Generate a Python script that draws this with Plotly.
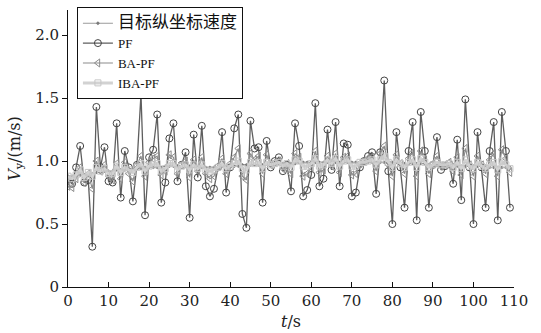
import plotly.graph_objects as go

# time axis (s)
t = list(range(110))

# target vertical velocity
v_target = [0.88, 0.88, 0.89, 0.89, 0.89, 0.90, 0.90, 0.91, 0.91, 0.92,
            0.92, 0.92, 0.93, 0.93, 0.93, 0.94, 0.94, 0.94, 0.94, 0.95,
            0.95, 0.95, 0.95, 0.95, 0.96, 0.96, 0.96, 0.96, 0.96, 0.96,
            0.96, 0.96, 0.95, 0.95, 0.95, 0.95, 0.95, 0.95, 0.96, 0.96,
            0.96, 0.96, 0.96, 0.97, 0.97, 0.97, 0.97, 0.97, 0.97, 0.98,
            0.98, 0.98, 0.98, 0.98, 0.98, 0.98, 0.98, 0.99, 0.99, 0.99,
            0.99, 0.99, 0.99, 0.99, 0.99, 0.99, 0.99, 0.99, 0.99, 0.99,
            0.99, 0.99, 0.99, 0.99, 0.99, 0.99, 0.99, 0.99, 0.99, 0.99,
            0.99, 0.99, 0.98, 0.98, 0.98, 0.98, 0.98, 0.98, 0.98, 0.97,
            0.97, 0.97, 0.97, 0.97, 0.97, 0.97, 0.96, 0.96, 0.96, 0.96,
            0.96, 0.96, 0.96, 0.96, 0.95, 0.95, 0.95, 0.95, 0.95, 0.95]

# PF estimate
v_pf = [0.86, 0.82, 0.95, 1.12, 0.83, 0.85, 0.32, 1.43, 0.95, 1.11,
        0.84, 0.83, 1.30, 0.71, 1.08, 0.95, 0.68, 0.97, 1.53, 0.57,
        1.03, 1.09, 1.37, 0.67, 0.83, 1.18, 1.30, 0.84, 0.97, 1.07,
        0.55, 1.21, 0.87, 1.28, 0.80, 0.72, 0.78, 0.95, 1.23, 0.75,
        0.95, 1.26, 1.37, 0.58, 0.47, 1.32, 1.10, 1.11, 0.67, 1.16,
        0.95, 1.00, 1.03, 0.92, 0.97, 0.76, 1.30, 1.12, 0.72, 0.77,
        0.89, 1.46, 0.80, 0.86, 1.25, 0.93, 1.31, 0.80, 1.14, 1.13,
        0.72, 0.75, 0.95, 1.00, 1.04, 1.07, 0.74, 1.07, 1.64, 0.92,
        0.50, 1.23, 0.95, 0.63, 1.08, 1.31, 0.53, 1.39, 1.08, 0.63,
        0.97, 1.19, 0.93, 0.96, 0.98, 0.82, 1.17, 0.69, 1.49, 0.95,
        0.50, 1.23, 0.95, 0.63, 1.08, 1.31, 0.53, 1.39, 1.08, 0.63]

# BA-PF estimate
v_bapf = [0.80, 0.79, 0.86, 0.95, 0.83, 0.90, 0.78, 1.00, 0.92, 0.97,
          0.88, 0.85, 0.98, 0.86, 0.99, 0.90, 0.84, 0.97, 1.04, 0.88,
          0.99, 1.02, 1.04, 0.89, 0.92, 1.05, 1.03, 0.90, 0.97, 1.00,
          0.87, 1.01, 0.92, 1.03, 0.90, 0.86, 0.88, 0.96, 1.02, 0.90,
          0.98, 1.03, 1.10, 0.88, 0.85, 1.06, 1.01, 1.04, 0.90, 1.05,
          0.97, 0.99, 1.00, 0.94, 0.98, 0.90, 1.06, 1.03, 0.88, 0.90,
          0.95, 1.08, 0.91, 0.93, 1.04, 0.96, 1.06, 0.91, 1.03, 1.04,
          0.89, 0.90, 0.98, 1.00, 1.02, 1.03, 0.92, 1.06, 1.12, 0.97,
          0.88, 1.05, 0.98, 0.90, 1.02, 1.07, 0.88, 1.08, 1.01, 0.90,
          0.98, 1.04, 0.96, 0.97, 0.99, 0.92, 1.03, 0.89, 1.10, 0.97,
          0.88, 1.04, 0.97, 0.90, 1.01, 1.06, 0.88, 1.09, 1.02, 0.91]

# IBA-PF estimate
v_ibapf = [0.88, 0.86, 0.89, 0.93, 0.87, 0.91, 0.88, 0.95, 0.92, 0.94,
           0.90, 0.90, 0.96, 0.91, 0.95, 0.93, 0.91, 0.95, 0.98, 0.92,
           0.96, 0.97, 0.98, 0.92, 0.94, 0.98, 0.98, 0.93, 0.96, 0.97,
           0.93, 0.97, 0.94, 0.97, 0.93, 0.92, 0.93, 0.95, 0.98, 0.94,
           0.96, 0.98, 1.00, 0.94, 0.93, 0.99, 0.98, 0.99, 0.94, 0.99,
           0.97, 0.98, 0.99, 0.96, 0.98, 0.95, 1.01, 1.00, 0.96, 0.96,
           0.98, 1.02, 0.96, 0.97, 1.01, 0.98, 1.02, 0.96, 1.00, 1.01,
           0.96, 0.96, 0.99, 0.99, 1.00, 1.01, 0.97, 1.01, 1.04, 0.99,
           0.95, 1.01, 0.98, 0.95, 0.99, 1.01, 0.95, 1.02, 0.99, 0.95,
           0.97, 0.99, 0.97, 0.97, 0.98, 0.95, 0.99, 0.94, 1.01, 0.96,
           0.94, 0.99, 0.96, 0.94, 0.97, 0.99, 0.93, 1.00, 0.97, 0.94]

x_ticks = [0, 10, 20, 30, 40, 50, 60, 70, 80, 90, 100, 110]
y_ticks = [0, 0.5, 1.0, 1.5, 2.0]
y_tick_text = ["0", "0.5", "1.0", "1.5", "2.0"]

FONT = "DejaVu Serif"

fig = go.Figure()

fig.add_trace(go.Scatter(
    x=t, y=v_pf, name="PF", mode="lines+markers", legendrank=2,
    line=dict(color="#5e5e5e", width=1.3),
    marker=dict(symbol="circle-open", size=7, color="#444444", line=dict(width=1)),
))
fig.add_trace(go.Scatter(
    x=t, y=v_bapf, name="BA-PF", mode="lines+markers", legendrank=3,
    line=dict(color="#8c8c8c", width=1.1),
    marker=dict(symbol="triangle-left-open", size=7, color="#8c8c8c", line=dict(width=1)),
))
fig.add_trace(go.Scatter(
    x=t, y=v_target, name="<span style='font-size:17px'>目标纵坐标速度</span>",
    mode="lines+markers", legendrank=1,
    line=dict(color="#9a9a9a", width=1.1),
    marker=dict(symbol="diamond", size=3, color="#7a7a7a"),
))
fig.add_trace(go.Scatter(
    x=t, y=v_ibapf, name="IBA-PF", mode="lines+markers", legendrank=4,
    line=dict(color="#d2d2d2", width=3),
    marker=dict(symbol="square-open", size=6, color="#c6c6c6", line=dict(width=1)),
))

fig.update_layout(
    width=541, height=333,
    margin=dict(l=68, r=27, t=7, b=46),
    paper_bgcolor="white", plot_bgcolor="white",
    font=dict(family=FONT, size=15, color="#222222"),
    showlegend=True,
    legend=dict(
        x=0.02, y=1.01, xanchor="left", yanchor="top",
        bgcolor="white", bordercolor="#111111", borderwidth=1,
        font=dict(family="Liberation Serif, Noto Sans CJK SC", size=13, color="#111111"),
        tracegroupgap=0, itemwidth=30,
    ),
    xaxis=dict(
        range=[0, 110], tickvals=x_ticks, showgrid=False, zeroline=False,
        showline=True, linecolor="#111111", linewidth=1,
        ticks="inside", ticklen=5, tickcolor="#111111",
        title=dict(text="<i>t</i>/s", font=dict(family=FONT, size=16), standoff=6),
    ),
    yaxis=dict(
        range=[0, 2.2], tickvals=y_ticks, ticktext=y_tick_text, showgrid=False,
        zeroline=False, showline=True, linecolor="#111111", linewidth=1,
        ticks="outside", ticklen=5, tickcolor="#111111",
        title=dict(text="<i>V</i><sub>y</sub>/(m/s)", font=dict(family=FONT, size=16), standoff=10),
    ),
)

fig.write_html("out.html")
